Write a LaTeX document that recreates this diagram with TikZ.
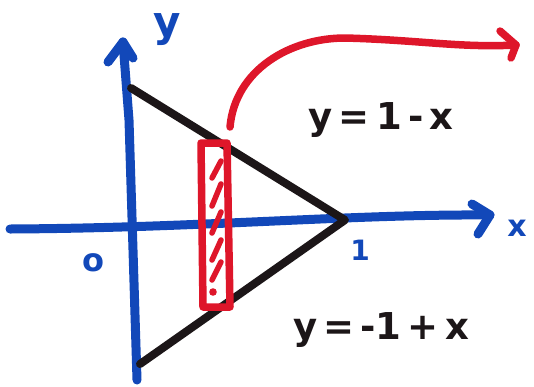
\documentclass[tikz,border=0pt]{standalone}
\usepackage{fontspec}
\setmainfont{DejaVu Sans}
\begin{document}
\begin{tikzpicture}[x=1pt,y=-1pt,line cap=round,line join=round]
\definecolor{penblue}{RGB}{18,72,185}
\definecolor{penred}{RGB}{222,22,42}
\definecolor{penblack}{RGB}{28,22,24}
\tikzset{
  axisline/.style={draw=penblue,line width=9pt},
  edgeline/.style={draw=penblack,line width=8pt},
  stripline/.style={draw=penred,line width=7.5pt},
  hatchline/.style={draw=penred,line width=5.5pt},
  lbl/.style={inner sep=0pt,font=\bfseries\fontsize{37}{37}\selectfont},
}
\useasboundingbox (0,0) rectangle (534,386);
% axes
\coordinate (ybot) at (137,380);
\coordinate (ytop) at (123,42);
\coordinate (xleft) at (10,229);
\coordinate (xright) at (490,215);
\draw[axisline] (ybot) -- (129,120) -- (ytop);
\draw[axisline] (108,62) -- (ytop) -- (133,58);
\draw[axisline] (xleft) .. controls (200,228) and (350,214) .. (xright);
\draw[axisline] (472,204) -- (xright) -- (478,234);
% triangle
\coordinate (A) at (131,88);
\coordinate (B) at (345,220);
\coordinate (C) at (140,364);
\draw[edgeline] (A) -- (B) -- (C);
% strip
\coordinate (s1) at (201,143);
\coordinate (s2) at (230,307);
\draw[stripline] (s1) -- (203,307) -- (s2) -- (227,143) -- cycle;
\foreach \ya/\yb in {178/161,206/184,233/212,260/240,280/262}
  \draw[hatchline] (212,\ya) -- (221,\yb);
\fill[penred] (213,292) circle (3.8pt);
% red arrow
\coordinate (rs) at (230,127);
\coordinate (re) at (516,45);
\draw[stripline] (rs) .. controls (235,70) and (290,38) .. (345,38)
  .. controls (420,40) and (460,48) .. (re);
\draw[stripline] (500,31) -- (re) -- (511,58);
% labels
\node[lbl,text=penblue,font=\bfseries\fontsize{42}{42}\selectfont] (ylab) at (167,30) {y};
\node[lbl,text=penblue,font=\bfseries\fontsize{30}{30}\selectfont] (xlab) at (517,228) {x};
\node[lbl,text=penblue,font=\bfseries\fontsize{32}{32}\selectfont] (olab) at (93,263) {o};
\node[lbl,text=penblue,font=\bfseries\fontsize{28}{28}\selectfont] (onelab) at (360,250) {1};
\node[lbl,text=penblack] (eq1) at (381,120) {y\,=\,1\,-\,x};
\node[lbl,text=penblack] (eq2) at (381,330) {y\,=\,-1\,+\,x};
\end{tikzpicture}
\end{document}
